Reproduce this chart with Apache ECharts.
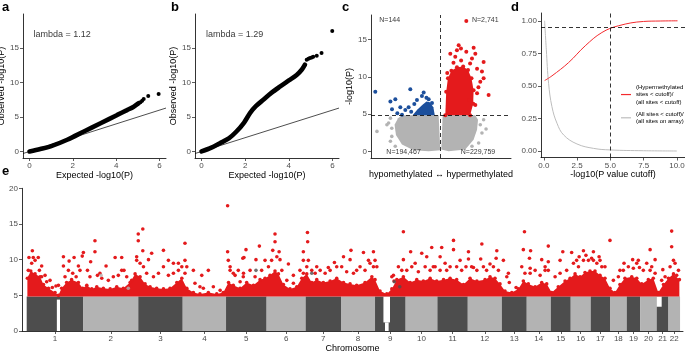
<!DOCTYPE html>
<html>
<head>
<meta charset="utf-8">
<script src="https://cdn.jsdelivr.net/npm/echarts@6/dist/echarts.min.js"></script>
<style>
  html, body { margin: 0; padding: 0; background: #fff; }
  #chart { width: 685px; height: 351px; }
</style>
</head>
<body>
<div id="chart"></div>
<script>
// ---------- a / b : QQ plots ----------
const qqTicksX = [0, 2, 4, 6];
const qqTicksY = [0, 5, 10, 15];
const qqDiag = [[-0.3, -0.3], [6.3, 6.3]];
const qqLambda = ['lambda = 1.12', 'lambda = 1.29'];
const qqBandA = [[0, 0], [0.5, 0.35], [0.97, 0.73], [1.74, 1.7], [2.51, 2.9], [3.28, 4.1], [4.05, 5.3], [4.5, 6.0], [4.81, 6.5], [5.04, 7.0]];
const qqTailA = [[5.12, 7.15], [5.2, 7.35], [5.27, 7.6], [5.48, 8.05], [5.96, 8.35]];
const qqBandB = [[0, 0], [0.45, 0.55], [0.84, 1.2], [1.25, 1.9], [1.6, 2.9], [1.95, 4.2], [2.22, 5.57], [2.5, 6.6], [2.83, 7.5], [3.2, 8.5], [3.59, 9.4], [4.0, 10.3], [4.36, 11.1], [4.6, 11.9], [4.74, 12.6]];
const qqTailB = [[4.82, 13.3], [4.9, 13.45], [4.97, 13.55], [5.05, 13.65], [5.12, 13.75], [5.28, 13.9], [5.5, 14.3], [5.99, 17.5]];

// ---------- c : volcano ----------
const volcanoTicksY = [0, 5, 10, 15];
const volcanoThreshold = 4.85;
const volcanoGreyLeft = [[-0.553, 4.85], [-0.024, 4.85], [0, 0.14], [-0.168, 0], [-0.385, 0.14], [-0.553, 0.9], [-0.64, 2.2], [-0.66, 3.56], [-0.61, 4.45]];
const volcanoGreyRight = [[0.034, 4.85], [0.505, 4.85], [0.544, 4.23], [0.53, 2.9], [0.48, 1.56], [0.36, 0.23], [0.12, 0], [0.014, 0.23]];
const volcanoGreyDots = [[-0.914, 2.67], [-0.746, 3.79], [-0.70, 3.1], [-0.72, 1.34], [-0.65, 0.67], [-0.72, 4.45], [-0.70, 2.0], [-0.77, 3.56], [0.577, 3.56], [0.601, 2.45], [0.553, 1.11], [0.457, 0.67], [0.625, 4.23], [0.66, 3.0]];
const volcanoBlueCore = [[-0.40, 4.85], [-0.33, 5.6], [-0.26, 6.2], [-0.2, 6.7], [-0.15, 6.6], [-0.1, 5.9], [-0.08, 4.85]];
const volcanoBlueDots = [[-0.938, 8.01], [-0.72, 6.68], [-0.649, 6.99], [-0.697, 5.65], [-0.553, 4.9], [-0.577, 5.92], [-0.433, 8.32], [-0.457, 5.92], [-0.337, 6.9], [-0.24, 7.88], [-0.265, 7.43], [-0.168, 6.99], [-0.375, 6.36], [-0.505, 5.56], [-0.2, 7.2], [-0.12, 6.5], [-0.42, 5.3], [-0.62, 5.1]];
const volcanoRedCore = [[0.072, 4.85], [0.085, 8.0], [0.11, 9.8], [0.16, 10.8], [0.24, 11.3], [0.33, 11.4], [0.40, 10.9], [0.45, 9.8], [0.48, 8.2], [0.475, 6.4], [0.43, 4.85]];
const volcanoRedDots = [[0.265, 14.24], [0.298, 13.8], [0.24, 13.57], [0.481, 13.9], [0.375, 13.35], [0.625, 12.0], [0.505, 13.1], [0.53, 11.1], [0.601, 10.7], [0.625, 9.8], [0.577, 9.35], [0.697, 7.57], [0.53, 7.8], [0.457, 12.46], [0.216, 12.7], [0.423, 6.9], [0.505, 6.23], [0.144, 13.1], [0.375, 17.5], [0.3, 12.2], [0.19, 11.9], [0.43, 11.8], [0.55, 8.6], [0.1, 10.5]];
const volcanoCountText = ['N=144', 'N=2,741', 'N=194,467', 'N=229,759'];
const volcanoCountAt = [[-0.731, 17.6], [0.649, 17.6], [-0.53, -0.08], [0.544, -0.08]];

// ---------- d : proportion vs cutoff ----------
const cutoffTicksX = [0, 2.5, 5, 7.5, 10];
const cutoffTicksY = [0, 0.25, 0.5, 0.75, 1];
const hyperShare = [[0.06, 0.541], [0.61, 0.577], [1.86, 0.679], [3.11, 0.808], [4.36, 0.91], [5.61, 0.962], [7.49, 0.995], [8.74, 0.9985], [10.04, 1.0]];
const allShare = [[0.06, 1.0], [0.19, 0.777], [0.36, 0.52], [0.61, 0.341], [0.99, 0.213], [1.49, 0.123], [2.49, 0.054], [3.74, 0.02], [4.99, 0.008], [7.49, 0.002], [9.99, 0.0]];
const cutoffChosen = 5;
const shareChosen = 0.95;

// ---------- e : Manhattan ----------
const manhattanTicksY = [0, 5, 10, 15, 20];
const manhattanThreshold = 4.85;
const chromNames = ['1', '2', '3', '4', '5', '6', '7', '8', '9', '10', '11', '12', '13', '14', '15', '16', '17', '18', '19', '20', '21', '22'];
const chromLength = [250, 242, 196, 191, 179, 172, 156, 150, 135, 140, 134, 150, 110, 106, 88, 88, 85, 74, 59, 73, 52, 51];
// empty stretches inside the grey bands: [from, to, low, high]
const chromHoles = [[133, 147, 0, 4.4], [1573, 1602, 1.2, 4.85], [1580, 1596, 0, 1.2], [2778, 2800, 3.4, 4.85]];
const hitsCore = [[3, 7.4], [18, 8.4], [37, 8.0], [59, 7.6], [74, 6.5], [96, 6.0], [125, 5.4], [140, 5.0], [154, 6.0], [176, 6.8], [198, 7.2], [228, 6.8], [247, 6.0], [265, 6.4], [287, 5.9], [309, 6.2], [338, 6.0], [368, 5.9], [397, 6.2], [426, 6.0], [456, 6.8], [478, 8.0], [500, 7.6], [522, 6.6], [544, 6.2], [573, 6.0], [603, 5.9], [632, 6.0], [662, 6.8], [684, 7.4], [706, 6.0], [735, 5.4], [764, 5.2], [801, 5.4], [838, 5.2], [867, 5.4], [890, 6.8], [911, 6.4], [941, 6.0], [970, 6.8], [1000, 6.4], [1029, 7.2], [1051, 7.4], [1073, 7.8], [1095, 8.4], [1110, 8.0], [1132, 6.5], [1161, 5.9], [1191, 6.2], [1213, 7.4], [1235, 8.0], [1257, 6.8], [1279, 7.2], [1308, 6.8], [1338, 7.0], [1367, 7.4], [1397, 6.8], [1426, 6.6], [1455, 6.4], [1492, 6.8], [1522, 7.6], [1536, 7.2], [1558, 5.6], [1588, 5.2], [1610, 5.9], [1632, 7.2], [1661, 7.6], [1691, 6.8], [1720, 7.2], [1749, 7.0], [1779, 7.4], [1808, 7.0], [1838, 7.2], [1867, 7.4], [1896, 7.2], [1926, 6.5], [1955, 7.4], [1985, 7.0], [2021, 7.2], [2043, 7.6], [2065, 7.4], [2087, 6.6], [2109, 5.6], [2139, 5.4], [2168, 5.9], [2190, 7.0], [2212, 6.6], [2242, 6.2], [2271, 6.8], [2293, 6.6], [2315, 5.4], [2344, 6.2], [2374, 7.0], [2396, 7.4], [2418, 8.0], [2440, 7.6], [2462, 8.2], [2484, 8.4], [2506, 8.4], [2528, 7.8], [2550, 7.4], [2572, 6.0], [2594, 5.4], [2616, 6.5], [2638, 7.4], [2668, 7.6], [2690, 7.4], [2712, 6.6], [2741, 7.2], [2763, 7.4], [2785, 5.4], [2808, 6.5], [2830, 7.4], [2852, 8.0], [2878, 7.2]];
const hitsMid = [
  [7, 8.5], [22, 9.5], [37, 9.9], [56, 8.5], [15, 7.6], [66, 7.6], [81, 7.8], [103, 7.1], [140, 6.4], [169, 7.6], [184, 8.5], [203, 8.1], [218, 7.6], [235, 8.5],
  [268, 8.5], [279, 7.6], [312, 7.8], [331, 7.4], [360, 7.1], [382, 7.6], [404, 7.8], [419, 8.5], [441, 7.6], [463, 7.1],
  [485, 9.9], [500, 9.5], [515, 9.0], [529, 8.1], [559, 7.6], [581, 8.1], [603, 9.0], [625, 7.8], [647, 8.1], [669, 8.5], [684, 9.0],
  [706, 9.0], [698, 8.1], [742, 6.7], [779, 6.0], [823, 6.2], [853, 5.7], [897, 9.0], [911, 8.1], [933, 8.5], [955, 7.6],
  [956, 8.1], [985, 8.5], [1007, 7.6], [1036, 8.5], [1066, 9.0], [1080, 9.9], [1103, 10.4], [1125, 8.5], [1147, 7.1], [1176, 6.7], [1205, 8.5], [1220, 8.1],
  [1242, 9.9], [1257, 8.5], [1272, 8.1], [1294, 8.5], [1316, 8.1], [1338, 8.5], [1367, 9.0],
  [1389, 9.0], [1411, 8.3], [1441, 8.1], [1470, 9.0], [1492, 8.5], [1514, 9.5], [1529, 9.0],
  [1610, 7.6], [1639, 9.0], [1654, 8.5], [1676, 8.5], [1698, 9.0], [1727, 8.3], [1757, 9.0], [1779, 8.5], [1801, 9.0],
  [1823, 8.5], [1845, 9.5], [1867, 9.0], [1896, 9.0], [1918, 8.5], [1937, 9.0], [1962, 9.0], [1985, 8.5], [2014, 9.0],
  [2028, 8.5], [2058, 9.0], [2080, 8.5], [2117, 7.6], [2183, 9.0], [2197, 8.1], [2220, 8.1], [2242, 8.5], [2264, 7.8], [2286, 9.0], [2300, 8.5],
  [2330, 7.6], [2352, 8.1], [2381, 8.5], [2411, 9.5], [2433, 9.0], [2455, 9.9], [2477, 9.9], [2499, 9.9], [2514, 9.5], [2528, 9.9], [2550, 9.0],
  [2587, 7.1], [2609, 7.6], [2631, 8.5], [2653, 9.0], [2675, 8.8], [2690, 9.5], [2719, 8.5], [2734, 9.5], [2756, 9.0], [2771, 8.1],
  [2800, 7.1], [2815, 7.6], [2837, 9.0], [2859, 9.5], [2874, 8.5]
];
const hitsTop = [
  [25, 11.25], [10, 10.3], [29, 10.3], [51, 10.3], [66, 9.1], [88, 6.9], [113, 6.1], [129, 6.3], [162, 9.1], [162, 10.4], [187, 9.8], [209, 10.3], [228, 9.1], [245, 10.5], [250, 11.0], [282, 9.7], [301, 12.65], [301, 11.1], [323, 8.1], [350, 9.1], [390, 10.3], [419, 10.3], [429, 8.5], [485, 10.4], [492, 13.6], [492, 12.65], [512, 14.3], [512, 11.25], [537, 10.0], [551, 10.9], [603, 11.3], [625, 9.9], [647, 9.5], [669, 9.5], [698, 12.3], [698, 9.9], [735, 8.5], [772, 7.8], [801, 8.5], [764, 6.2], [886, 17.55], [886, 11.1], [889, 9.9], [897, 8.5], [919, 7.8], [941, 6.9], [967, 11.4], [953, 10.2],
  [958, 10.3], [1026, 11.9], [1011, 10.0], [1051, 9.9], [1095, 13.6], [1095, 12.5], [1113, 11.1], [1117, 10.0], [1085, 11.3], [1154, 9.4], [1176, 7.8], [1220, 9.9], [1220, 11.1], [1238, 13.8], [1239, 12.5], [1235, 9.0], [1279, 9.0], [1330, 8.9], [1357, 9.6], [1397, 10.4], [1426, 10.0], [1430, 11.3], [1455, 8.5], [1485, 11.0], [1507, 9.9], [1529, 11.1], [1536, 9.9], [1544, 9.0], [1617, 7.8], [1620, 7.0], [1661, 13.9], [1661, 10.0], [1693, 11.1], [1713, 9.5], [1742, 10.9], [1764, 10.4], [1786, 11.7], [1793, 9.0], [1830, 11.7], [1823, 10.4], [1852, 8.5], [1882, 12.7], [1882, 11.4], [1911, 9.9], [1948, 11.1], [1948, 10.1], [1970, 8.9], [2002, 10.1], [2007, 12.2],
  [2043, 9.4], [2073, 11.25], [2070, 10.2], [2102, 9.9], [2124, 8.1], [2128, 6.8], [2158, 6.1], [2195, 13.9], [2190, 11.4], [2222, 11.25], [2217, 10.2], [2220, 8.8], [2271, 10.0], [2300, 11.9], [2300, 9.7], [2286, 8.5], [2352, 9.9], [2364, 11.1], [2403, 11.0], [2425, 9.9], [2436, 10.4], [2455, 11.25], [2466, 10.6], [2499, 11.1], [2491, 10.2], [2524, 10.4], [2536, 9.0], [2572, 12.7], [2616, 8.5], [2634, 9.5], [2672, 10.0], [2697, 9.9], [2702, 8.9], [2749, 11.4], [2771, 10.0], [2749, 8.5], [2805, 8.6], [2844, 14.0], [2844, 11.8], [2852, 9.9], [2866, 7.8]
];
// grey (non-hyper) sites just above the cut: [position, -log10 p, shade index]
const greyAbove = [[328, 7.8, 1], [448, 6.0, 1], [1011, 8.5, 0], [1257, 8.1, 0], [1621, 6.9, 0], [1645, 6.2, 0]];

const FONT = '"Liberation Sans", Arial, sans-serif';
const RED = '#e41a1c';
const BLUE = '#1c4f9c';
const LIGHT = '#b3b3b3';
const DARK = '#4d4d4d';

let acc = 0;
const chromBlocks = chromLength.map((len, i) => {
  const b = [acc, acc + len, i, manhattanThreshold];
  acc += len;
  return b;
});
const chromMid = chromBlocks.map(b => (b[0] + b[1]) / 2);

function axis(kind, g, min, max, ticks, fmt, name, gap) {
  return {
    type: 'value', gridIndex: g, min: min, max: max,
    position: kind === 'x' ? 'bottom' : 'left',
    splitLine: {show: false},
    axisLine: {show: true, onZero: false, lineStyle: {color: '#000', width: 0.8}},
    axisTick: {show: ticks.length > 0, customValues: ticks, length: 3, lineStyle: {color: '#333', width: 0.8}},
    axisLabel: {
      show: ticks.length > 0, customValues: ticks, formatter: fmt,
      color: '#4d4d4d', fontSize: 8, fontFamily: FONT, margin: 4
    },
    name: name, nameLocation: 'middle', nameGap: gap,
    nameTextStyle: {color: '#000', fontSize: 9, fontFamily: FONT}
  };
}

function polygon(g, pts, color, z) {
  return {
    type: 'custom', xAxisIndex: g, yAxisIndex: g, z: z, silent: true,
    data: [pts[0]],
    renderItem: (params, api) => ({
      type: 'polygon',
      shape: {points: pts.map(p => api.coord(p))},
      style: {fill: color}
    })
  };
}

function dots(g, pts, color, size, z) {
  return {
    type: 'scatter', xAxisIndex: g, yAxisIndex: g, z: z, silent: true,
    data: pts, symbolSize: size, itemStyle: {color: color, opacity: 1}
  };
}

function texts(g, items, fontSize, position) {
  return {
    type: 'scatter', xAxisIndex: g, yAxisIndex: g, z: 10, silent: true,
    symbolSize: 0.1, itemStyle: {color: 'transparent'},
    data: items,
    label: {show: true, position: position, distance: 0, formatter: p => p.name,
      color: '#000', fontSize: fontSize, fontFamily: FONT}
  };
}

const dashed = {color: '#000', width: 0.8, type: [4, 3]};
const nameHyper = '(Hypermethylated\nsites < cutoff)/\n(all sites < cutoff)';
const nameAll = '(All sites < cutoff)/\n(all sites on array)';

const chart = echarts.init(document.getElementById('chart'));
chart.setOption({
  animation: false,
  textStyle: {fontFamily: FONT},
  grid: [
    {left: 23, top: 14, width: 143, height: 144, outerBoundsMode: 'none'},
    {left: 195, top: 14, width: 144, height: 144, outerBoundsMode: 'none'},
    {left: 371, top: 15, width: 140, height: 143, outerBoundsMode: 'none'},
    {left: 541, top: 13, width: 144, height: 144.5, outerBoundsMode: 'none'},
    {left: 22, top: 188.3, width: 661, height: 142.7, outerBoundsMode: 'none'}
  ],
  xAxis: [
    axis('x', 0, -0.3, 6.3, qqTicksX, v => String(v), 'Expected -log10(P)', 12),
    axis('x', 1, -0.3, 6.3, qqTicksX, v => String(v), 'Expected -log10(P)', 12),
    axis('x', 2, -1, 1.02, [], null, 'hypomethylated \u2194 hypermethylated', 12),
    axis('x', 3, -0.21, 10.6, cutoffTicksX, v => v.toFixed(1), '-log10(P value cutoff)', 12),
    axis('x', 4, -20.7, 2894, chromMid, v => chromNames[chromMid.findIndex(m => Math.abs(m - v) < 0.01)], 'Chromosome', 11)
  ],
  yAxis: [
    axis('y', 0, -0.95, 19.95, qqTicksY, v => String(v), 'Observed -log10(P)', 11),
    axis('y', 1, -0.95, 19.95, qqTicksY, v => String(v), 'Observed -log10(P)', 14),
    axis('y', 2, -0.9, 18.3, volcanoTicksY, v => String(v), '-log10(P)', 12.5),
    axis('y', 3, -0.05, 1.06, cutoffTicksY, v => v.toFixed(2), '', 0),
    axis('y', 4, 0, 20, manhattanTicksY, v => String(v), '-log10(P)', 13)
  ],
  legend: {
    data: [nameHyper, nameAll], orient: 'vertical', left: 616, top: 78,
    icon: 'rect', itemWidth: 10, itemHeight: 1.2, itemGap: 4,
    textStyle: {fontSize: 6, lineHeight: 7.7, color: '#000', fontFamily: FONT}
  },
  graphic: [
    {type: 'text', left: 2, top: 1, style: {text: 'a', font: 'bold 13px ' + FONT, fill: '#000'}},
    {type: 'text', left: 171, top: 1, style: {text: 'b', font: 'bold 13px ' + FONT, fill: '#000'}},
    {type: 'text', left: 342, top: 1, style: {text: 'c', font: 'bold 13px ' + FONT, fill: '#000'}},
    {type: 'text', left: 511, top: 1, style: {text: 'd', font: 'bold 13px ' + FONT, fill: '#000'}},
    {type: 'text', left: 2, top: 165, style: {text: 'e', font: 'bold 13px ' + FONT, fill: '#000'}}
  ],
  series: [
    // a
    {type: 'line', xAxisIndex: 0, yAxisIndex: 0, data: qqDiag, symbol: 'none', silent: true, lineStyle: {color: '#000', width: 0.7}},
    {type: 'line', xAxisIndex: 0, yAxisIndex: 0, data: qqBandA, symbol: 'none', smooth: 0.3, silent: true, lineStyle: {color: '#000', width: 4.6, cap: 'round'}},
    dots(0, qqTailA, '#000', 4, 3),
    texts(0, [{name: qqLambda[0], value: [0.18, 16.9]}], 9, 'right'),
    // b
    {type: 'line', xAxisIndex: 1, yAxisIndex: 1, data: qqDiag, symbol: 'none', silent: true, lineStyle: {color: '#000', width: 0.7}},
    {type: 'line', xAxisIndex: 1, yAxisIndex: 1, data: qqBandB, symbol: 'none', smooth: 0.3, silent: true, lineStyle: {color: '#000', width: 4.6, cap: 'round'}},
    dots(1, qqTailB, '#000', 4, 3),
    texts(1, [{name: qqLambda[1], value: [0.2, 16.9]}], 9, 'right'),
    // c
    polygon(2, volcanoGreyLeft, LIGHT, 1),
    polygon(2, volcanoGreyRight, LIGHT, 1),
    Object.assign(dots(2, volcanoGreyDots, LIGHT, 3.6, 2), {
      markLine: {silent: true, symbol: 'none', label: {show: false}, lineStyle: dashed,
        data: [{yAxis: volcanoThreshold}, {xAxis: 0}]}
    }),
    polygon(2, volcanoBlueCore, BLUE, 3),
    dots(2, volcanoBlueDots, BLUE, 4, 4),
    polygon(2, volcanoRedCore, RED, 3),
    dots(2, volcanoRedDots, RED, 4, 4),
    dots(2, volcanoRedCore, RED, 4, 4),
    texts(2, volcanoCountText.map((t, i) => ({name: t, value: volcanoCountAt[i]})), 7, 'inside'),
    // d
    {type: 'line', name: nameAll, xAxisIndex: 3, yAxisIndex: 3, data: allShare, symbol: 'none', smooth: 0.4, silent: true,
      itemStyle: {color: '#bdbdbd'}, lineStyle: {color: '#bdbdbd', width: 1}},
    {type: 'line', name: nameHyper, xAxisIndex: 3, yAxisIndex: 3, data: hyperShare, symbol: 'none', smooth: 0.4, silent: true,
      itemStyle: {color: '#f32a2e'}, lineStyle: {color: '#f32a2e', width: 1},
      markLine: {silent: true, symbol: 'none', label: {show: false}, lineStyle: dashed,
        data: [{yAxis: shareChosen}, {xAxis: cutoffChosen}]}},
    // e
    {
      type: 'custom', xAxisIndex: 4, yAxisIndex: 4, z: 1, silent: true,
      data: chromBlocks, encode: {x: [0, 1], y: 3},
      renderItem: (params, api) => {
        const lo = api.coord([api.value(0), 0]);
        const hi = api.coord([api.value(1), api.value(3)]);
        return {type: 'rect', shape: {x: lo[0], y: hi[1], width: hi[0] - lo[0], height: lo[1] - hi[1]},
          style: {fill: api.value(2) % 2 ? LIGHT : DARK}};
      }
    },
    {
      type: 'custom', xAxisIndex: 4, yAxisIndex: 4, z: 2, silent: true,
      data: chromHoles, encode: {x: [0, 1], y: [2, 3]},
      renderItem: (params, api) => {
        const lo = api.coord([api.value(0), api.value(2)]);
        const hi = api.coord([api.value(1), api.value(3)]);
        return {type: 'rect', shape: {x: lo[0], y: hi[1], width: hi[0] - lo[0], height: lo[1] - hi[1]},
          style: {fill: '#fff'}};
      }
    },
    polygon(4, [[hitsCore[0][0], manhattanThreshold]].concat(hitsCore, [[hitsCore[hitsCore.length - 1][0], manhattanThreshold]]), RED, 3),
    dots(4, hitsCore, RED, 3.6, 4),
    dots(4, hitsMid, RED, 3.6, 4),
    dots(4, hitsTop, RED, 3.6, 4),
    {
      type: 'scatter', xAxisIndex: 4, yAxisIndex: 4, z: 4, silent: true, symbolSize: 3.6,
      data: greyAbove,
      itemStyle: {color: p => (p.value[2] ? LIGHT : DARK)}
    }
  ]
});
</script>
</body>
</html>
